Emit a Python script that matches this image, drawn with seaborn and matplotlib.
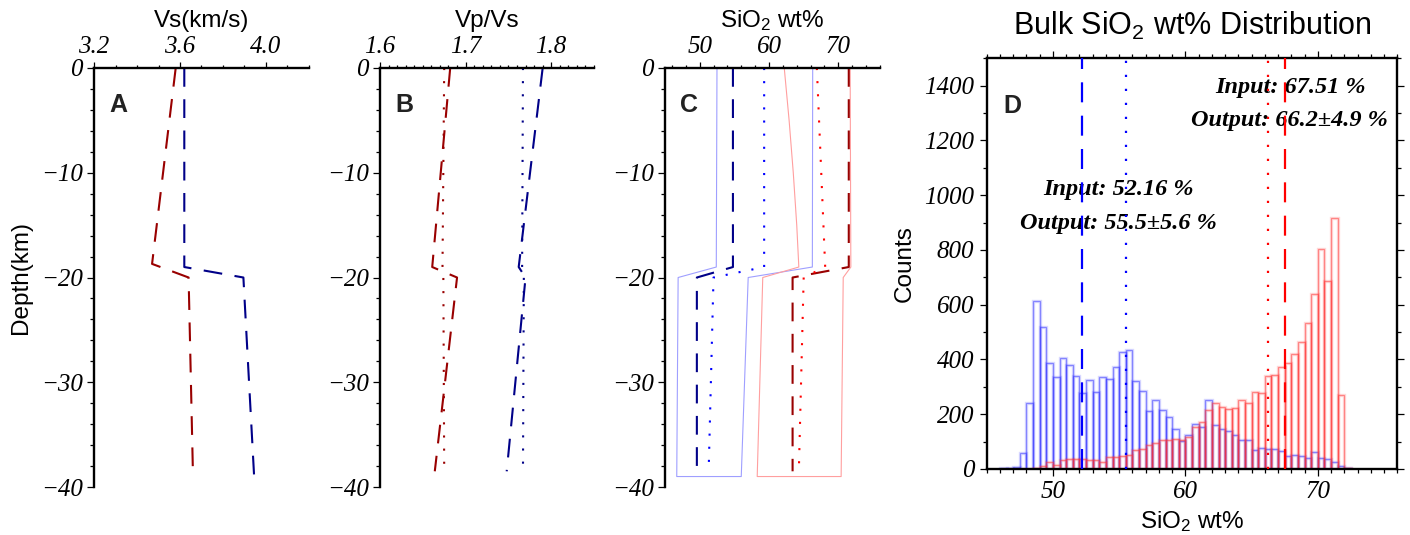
import numpy as np
import pandas as pd
import matplotlib
matplotlib.use("Agg")
import matplotlib.pyplot as plt
import seaborn as sns
from matplotlib.ticker import MultipleLocator, FixedLocator, FuncFormatter
from matplotlib.font_manager import FontProperties

# ---------------- data ----------------
# Panel A : Vs (km/s) vs depth
vs_red_depth = [0, -18.7, -20, -38.5]
vs_red = [3.58, 3.47, 3.64, 3.66]
vs_blue_depth = [0, -19, -20, -39]
vs_blue = [3.62, 3.62, 3.895, 3.945]

# Panel B : Vp/Vs vs depth
vpvs_depth = [0, -19, -20, -38.5]
vpvs_red_dash = [1.682, 1.661, 1.690, 1.664]
vpvs_red_dot = [1.675, 1.673, 1.674, 1.675]
vpvs_blue_dash = [1.790, 1.762, 1.770, 1.748]
vpvs_blue_dot = [1.767, 1.766, 1.768, 1.767]

# Panel C : SiO2 wt% vs depth
sio2_depth = [0, -19, -20, -38.5]
sio2_blue_dash = [54.8, 54.8, 49.6, 49.6]
sio2_blue_dot = [59.3, 59.3, 52.0, 51.3]
sio2_red_dash = [71.5, 71.5, 63.4, 63.4]
sio2_red_dot = [66.9, 68.1, 65.0, 64.3]
env_depth = [0, -19, -20, -39]
env_blue_left = [52.5, 52.4, 46.9, 46.7]
env_blue_right = [66.3, 66.25, 57.0, 56.0]
env_red_left_depth = [0, -5, -10, -15, -19, -20, -39]
env_red_left = [62.2, 62.9, 63.5, 64.0, 64.3, 59.1, 58.3]
env_red_right = [71.7, 71.8, 70.7, 70.4]

# Panel D : histograms (bin left edges, width 0.5)
bin_left = [46.0, 46.5, 47.0, 47.5, 48.0, 48.5, 49.0, 49.5, 50.0, 50.5,
            51.0, 51.5, 52.0, 52.5, 53.0, 53.5, 54.0, 54.5, 55.0, 55.5,
            56.0, 56.5, 57.0, 57.5, 58.0, 58.5, 59.0, 59.5, 60.0, 60.5,
            61.0, 61.5, 62.0, 62.5, 63.0, 63.5, 64.0, 64.5, 65.0, 65.5,
            66.0, 66.5, 67.0, 67.5, 68.0, 68.5, 69.0, 69.5, 70.0, 70.5,
            71.0, 71.5, 72.0]
blue_counts = [2, 2, 8, 58, 240, 613, 518, 388, 335, 407,
               378, 339, 277, 325, 283, 335, 329, 374, 426, 435,
               320, 284, 210, 251, 214, 189, 145, 102, 123, 166,
               154, 251, 161, 146, 139, 123, 106, 105, 69, 75,
               73, 73, 66, 46, 50, 48, 39, 61, 39, 37,
               24, 10, 2]
red_counts = [0, 0, 0, 0, 0, 3, 10, 24, 15, 33,
              37, 35, 37, 33, 33, 26, 43, 43, 47, 50,
              69, 72, 88, 94, 105, 105, 108, 105, 116, 154,
              171, 214, 240, 227, 218, 222, 251, 241, 280, 279,
              339, 342, 372, 386, 419, 463, 532, 638, 804, 685,
              916, 269, 2]
bin_width = 0.5
blue_input, blue_output, blue_std = 52.16, 55.5, 5.6
red_input, red_output, red_std = 67.51, 66.2, 4.9

# ---------------- style ----------------
sns.set_style("ticks")
plt.rcParams['font.family'] = ['Liberation Sans', 'DejaVu Sans']
plt.rcParams['mathtext.fontset'] = 'custom'
plt.rcParams['mathtext.rm'] = 'Liberation Sans'
plt.rcParams['mathtext.it'] = 'Liberation Sans:italic'
plt.rcParams['axes.linewidth'] = 1.7
plt.rcParams['axes.edgecolor'] = 'black'
plt.rcParams['text.color'] = 'black'
plt.rcParams['axes.labelcolor'] = 'black'
plt.rcParams['xtick.color'] = 'black'
plt.rcParams['ytick.color'] = 'black'

NAVY = '#000088'
DRED = '#990000'
DASH = (0, (9, 6))
DOT = (0, (1, 5.3))
tickfont = FontProperties(family='Liberation Serif', style='italic', size=18)


def fmt_factory(decimals):
    def f(v, pos):
        s = f"{v:.{decimals}f}"
        if s.startswith('-'):
            s = '\u2212' + s[1:]
        if s in ('\u22120', '\u22120.0'):
            s = s[1:]
        return s
    return FuncFormatter(f)


fig = plt.figure(figsize=(14.1, 5.35), dpi=100)
axA = fig.add_axes([0.0667, 0.0897, 0.1524, 0.7832])
axB = fig.add_axes([0.2695, 0.0897, 0.1518, 0.7832])
axC = fig.add_axes([0.4716, 0.0897, 0.1525, 0.7832])
axD = fig.add_axes([0.6998, 0.1234, 0.2912, 0.7676])


def line(ax, x, y, color, ls, lw=1.5):
    sns.lineplot(x=x, y=y, sort=False, estimator=None, ax=ax, color=color,
                 linestyle=ls, linewidth=lw)


def setup_profile(ax, xlim, major, minor, dec, title, letter):
    ax.set_xlim(*xlim)
    ax.set_ylim(-40, 0)
    ax.set_xlabel('')
    ax.set_ylabel('')
    ax.spines['right'].set_visible(False)
    ax.spines['bottom'].set_visible(False)
    ax.xaxis.tick_top()
    ax.xaxis.set_major_locator(FixedLocator(major))
    ax.xaxis.set_minor_locator(MultipleLocator(minor))
    ax.xaxis.set_major_formatter(fmt_factory(dec))
    ax.yaxis.set_major_locator(MultipleLocator(10))
    ax.yaxis.set_minor_locator(MultipleLocator(2))
    ax.yaxis.set_major_formatter(fmt_factory(0))
    ax.tick_params(axis='x', which='major', direction='out', length=4.5,
                   width=0.9, top=True, bottom=False, labeltop=True,
                   labelbottom=False, pad=3)
    ax.tick_params(axis='x', which='minor', direction='out', length=2.4,
                   width=0.9, top=True, bottom=False)
    ax.tick_params(axis='y', which='major', direction='out', length=5,
                   width=0.9, left=True, right=False, pad=3)
    ax.tick_params(axis='y', which='minor', direction='out', length=3,
                   width=0.9, left=True, right=False)
    for t in ax.get_xticklabels() + ax.get_yticklabels():
        t.set_fontproperties(tickfont)
    ax.text(0.5, 1.097, title, transform=ax.transAxes, ha='center',
            va='baseline', fontsize=17.5)
    ax.text(0.07, 0.895, letter, transform=ax.transAxes, ha='left',
            va='baseline', fontsize=18, fontweight='bold', color='#222222')


# ---- Panel A ----
line(axA, vs_red, vs_red_depth, DRED, DASH)
line(axA, vs_blue, vs_blue_depth, NAVY, DASH)
setup_profile(axA, (3.2, 4.2), [3.2, 3.6, 4.0], 0.1, 1, 'Vs(km/s)', 'A')
axA.text(-0.34, 0.5, 'Depth(km)', transform=axA.transAxes, rotation=90,
         ha='center', va='center', fontsize=17.5)

# ---- Panel B ----
line(axB, vpvs_red_dash, vpvs_depth, DRED, DASH)
line(axB, vpvs_red_dot, vpvs_depth, DRED, DOT)
line(axB, vpvs_blue_dash, vpvs_depth, NAVY, DASH)
line(axB, vpvs_blue_dot, vpvs_depth, NAVY, DOT)
setup_profile(axB, (1.6, 1.85), [1.6, 1.7, 1.8], 0.01, 1, 'Vp/Vs', 'B')

# ---- Panel C ----
blue_env_x = env_blue_left + env_blue_right[::-1]
blue_env_y = env_depth + env_depth[::-1]
red_env_x = env_red_left + env_red_right[::-1]
red_env_y = env_red_left_depth + env_depth[::-1]
line(axC, blue_env_x, blue_env_y, '#9f9fff', '-', lw=0.8)
line(axC, red_env_x, red_env_y, '#ff9f9f', '-', lw=0.8)
line(axC, sio2_blue_dash, sio2_depth, NAVY, DASH)
line(axC, sio2_blue_dot, sio2_depth, '#0000ff', DOT)
line(axC, sio2_red_dash, sio2_depth, DRED, DASH)
line(axC, sio2_red_dot, sio2_depth, '#ff0000', DOT)
setup_profile(axC, (45, 76), [50, 60, 70], 2, 0, r'SiO$_\mathrm{2}$ wt%', 'C')

# ---- Panel D ----
edges = bin_left + [bin_left[-1] + bin_width]
centers = [b + bin_width / 2 for b in bin_left]
for counts, col in [(blue_counts, '#3030ff'), (red_counts, '#ff3030')]:
    sns.histplot(x=centers, weights=counts, bins=edges, fill=False, ax=axD,
                 color=col, alpha=0.18, linewidth=2.4)
    sns.histplot(x=centers, weights=counts, bins=edges, fill=False, ax=axD,
                 color=col, alpha=0.5, linewidth=0.9)

axD.axvline(blue_input, color='#0000ff', linestyle=DASH, linewidth=1.6, zorder=5)
axD.axvline(blue_output, color='#0000ff', linestyle=DOT, linewidth=1.6, zorder=5)
axD.axvline(red_output, color='#ff0000', linestyle=DOT, linewidth=1.6, zorder=5)
axD.axvline(red_input, color='#ff0000', linestyle=DASH, linewidth=1.6, zorder=5)

axD.set_xlim(45, 76)
axD.set_ylim(0, 1500)
axD.set_xlabel('')
axD.set_ylabel('')
axD.xaxis.set_major_locator(FixedLocator([50, 60, 70]))
axD.xaxis.set_minor_locator(MultipleLocator(1))
axD.yaxis.set_major_locator(FixedLocator([0, 200, 400, 600, 800, 1000, 1200, 1400]))
axD.yaxis.set_minor_locator(MultipleLocator(100))
axD.xaxis.set_major_formatter(fmt_factory(0))
axD.yaxis.set_major_formatter(fmt_factory(0))
axD.tick_params(axis='both', which='major', direction='out', length=5,
                width=0.9, top=True, right=True, bottom=True, left=True,
                labeltop=False, labelright=False, pad=4)
axD.tick_params(axis='both', which='minor', direction='out', length=2.6,
                width=0.9, top=True, right=True, bottom=True, left=True)
for t in axD.get_xticklabels() + axD.get_yticklabels():
    t.set_fontproperties(tickfont)

annot = dict(family='Liberation Serif', style='italic', weight='bold',
             fontsize=17.5, ha='center', va='baseline', zorder=3, color='black')
axD.text(54.92, 1001, f'Input: {blue_input:.2f} %', **annot)
axD.text(54.98, 877, f'Output: {blue_output:.1f}\u00b1{blue_std:.1f} %', **annot)
axD.text(67.92, 1375, f'Input: {red_input:.2f} %', **annot)
axD.text(67.89, 1251, f'Output: {red_output:.1f}\u00b1{red_std:.1f} %', **annot)

axD.text(0.04, 0.866, 'D', transform=axD.transAxes, ha='left', va='baseline',
         fontsize=18, fontweight='bold', color='#222222')
axD.text(0.5, 1.057, r'Bulk SiO$_\mathrm{2}$ wt% Distribution',
         transform=axD.transAxes, ha='center', va='baseline', fontsize=22)
axD.text(0.5, -0.144, r'SiO$_\mathrm{2}$ wt%', transform=axD.transAxes,
         ha='center', va='baseline', fontsize=17.5)
axD.text(-0.199, 0.5, 'Counts', transform=axD.transAxes, rotation=90,
         ha='center', va='center', fontsize=17.5)

fig.savefig('out.png', dpi=100)
